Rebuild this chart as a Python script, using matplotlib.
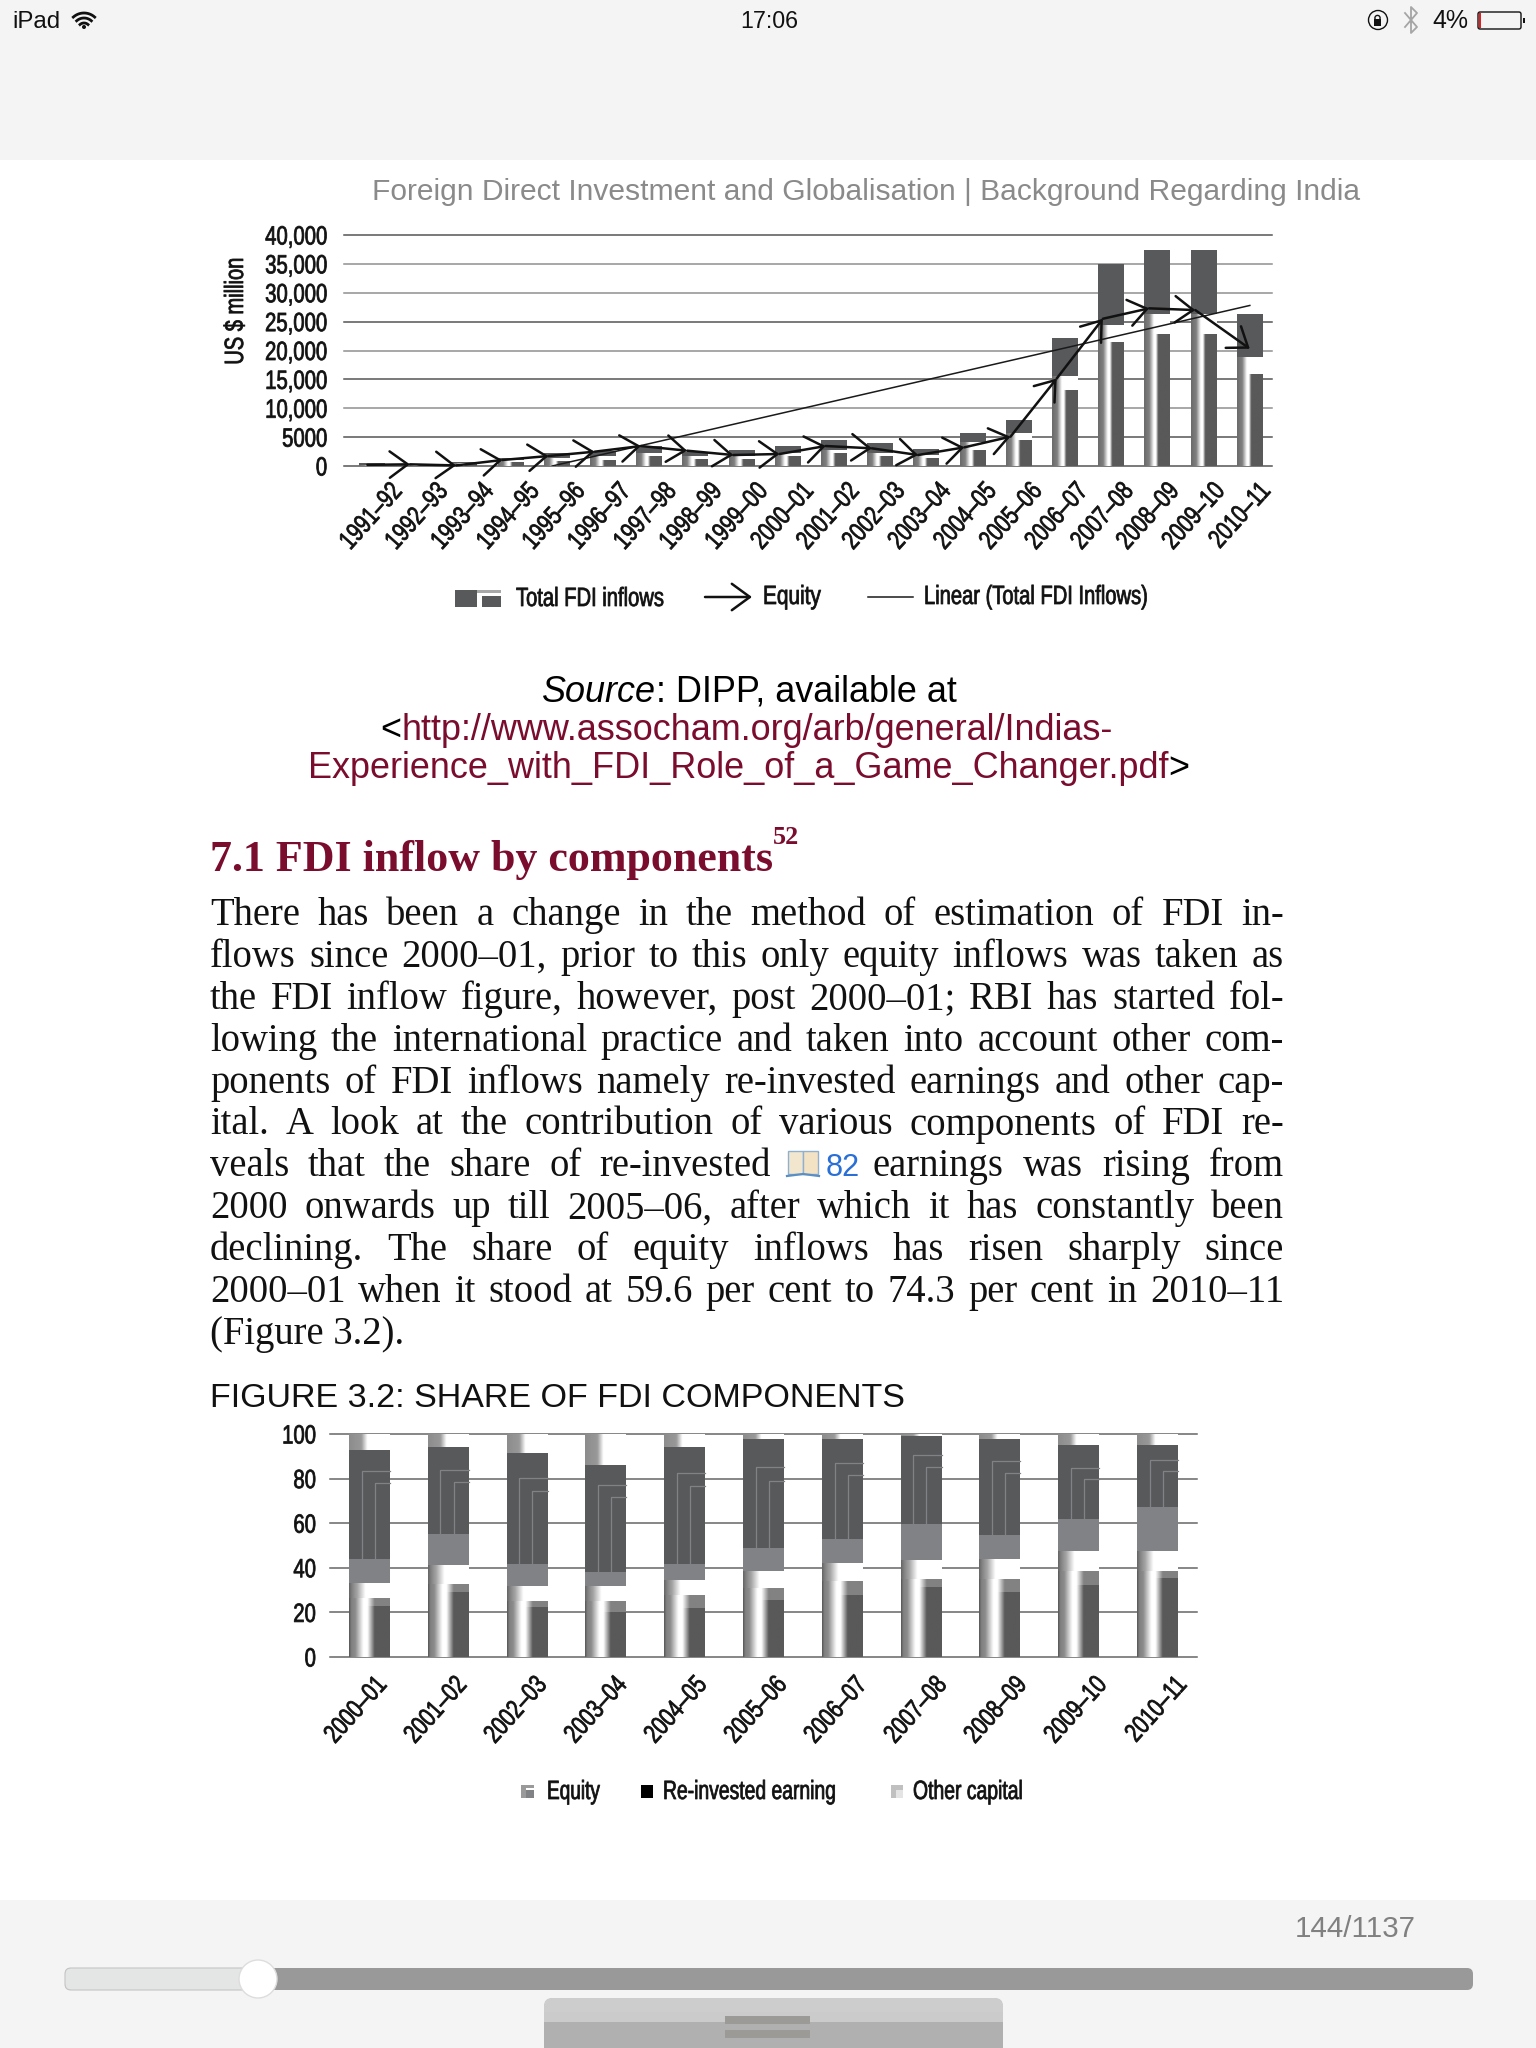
import matplotlib

matplotlib.use("Agg")
import matplotlib.pyplot as plt
from matplotlib.patches import Rectangle, FancyBboxPatch, Circle
from matplotlib.patheffects import AbstractPathEffect
from matplotlib.transforms import Affine2D
import numpy as np

W, H = 1536, 2048
SERIF = "Liberation Serif"
SANS = "Liberation Sans"
DARK = "#58595b"
MID = "#808285"
MAROON = "#7a0c2e"
INK = "#111111"

# ---- Figure 3.1 values (US $ million)
years1 = ["1991–92", "1992–93", "1993–94", "1994–95", "1995–96", "1996–97", "1997–98",
          "1998–99", "1999–00", "2000–01", "2001–02", "2002–03", "2003–04", "2004–05",
          "2005–06", "2006–07", "2007–08", "2008–09", "2009–10", "2010–11"]
total_fdi = [450, 320, 700, 1300, 2200, 2650, 3400, 2500, 2800, 3400, 4550, 3950, 2950, 5650,
             7950, 22250, 34900, 37350, 37400, 26400]
solid_from = [250, 250, 500, 1000, 1300, 1700, 2300, 1700, 1700, 2300, 2700, 2250, 1900, 4200,
              5650, 15600, 24400, 26400, 26400, 18900]
column_top = [200, 150, 400, 700, 800, 1100, 1700, 1200, 1200, 1700, 2200, 1700, 1300, 2750,
              4500, 13100, 21500, 22900, 22900, 16000]
equity1 = [200, 290, 100, 1040, 1730, 2480, 3460, 2650, 1900, 2080, 3460, 3060, 1900, 3230,
           5080, 15150, 25500, 27300, 27000, 20300]
trend_x = [3.9, 19.0]
trend_y = [0, 27800]
ticks1 = [0, 5000, 10000, 15000, 20000, 25000, 30000, 35000, 40000]
tick_labels1 = ["0", "5000", "10,000", "15,000", "20,000", "25,000", "30,000", "35,000", "40,000"]
grid_colors1 = ["#555555", "#555555", "#909090", "#555555", "#909090", "#555555", "#909090", "#909090", "#555555"]

# ---- Figure 3.2 values (per cent)
years2 = ["2000–01", "2001–02", "2002–03", "2003–04", "2004–05", "2005–06", "2006–07",
          "2007–08", "2008–09", "2009–10", "2010–11"]
col_top = [23.0, 29.0, 22.4, 20.2, 22.0, 25.4, 27.9, 31.4, 29.0, 32.4, 35.5]
cap_top = [26.5, 32.9, 24.9, 25.0, 27.6, 30.8, 33.9, 35.0, 35.0, 38.7, 38.7]
notch_top = [33.2, 41.1, 32.0, 32.0, 34.6, 38.4, 42.2, 43.7, 44.1, 47.4, 47.4]
band_top = [44.1, 55.1, 41.9, 38.0, 41.9, 48.9, 52.9, 59.6, 54.8, 61.9, 67.1]
dark_top = [93.0, 94.0, 91.5, 86.3, 94.2, 97.7, 97.7, 98.9, 97.7, 95.2, 95.2]
inner_a = [83.6, 84.0, 80.3, 77.3, 82.5, 85.0, 87.0, 90.7, 87.7, 84.8, 88.5]
inner_b = [78.0, 78.4, 74.6, 71.7, 76.5, 79.1, 81.5, 85.2, 82.4, 80.0, 83.5]
ticks2 = [0, 20, 40, 60, 80, 100]

body_lines = [
    "There has been a change in the method of estimation of FDI in-",
    "flows since 2000–01, prior to this only equity inflows was taken as",
    "the FDI inflow figure, however, post 2000–01; RBI has started fol-",
    "lowing the international practice and taken into account other com-",
    "ponents of FDI inflows namely re-invested earnings and other cap-",
    "ital. A look at the contribution of various components of FDI re-",
    None,
    "2000 onwards up till 2005–06, after which it has constantly been",
    "declining. The share of equity inflows has risen sharply since",
    "2000–01 when it stood at 59.6 per cent to 74.3 per cent in 2010–11",
]


class Squeeze(AbstractPathEffect):
    # no condensed font is installed, so narrow the glyphs of a normal one
    # and stroke them a little, the scan's lettering is heavier
    def __init__(self, sx, anchor=0.0, stroke=0.55):
        super().__init__()
        self.sx = sx
        self.anchor = anchor
        self.stroke = stroke

    def draw_path(self, renderer, gc, tpath, affine, rgbFace=None):
        shift = (1 - self.sx) * tpath.get_extents().x1 * self.anchor
        gc0 = renderer.new_gc()
        gc0.copy_properties(gc)
        gc0.set_linewidth(self.stroke)
        gc0.set_foreground(rgbFace)
        renderer.draw_path(gc0, tpath, Affine2D().scale(self.sx, 1).translate(shift, 0) + affine, rgbFace)
        gc0.restore()


fig = plt.figure(figsize=(W / 100, H / 100), dpi=100, facecolor="white")
rend = fig.canvas.get_renderer()

page = fig.add_axes([0, 0, 1, 1])
page.set_xlim(0, W)
page.set_ylim(H, 0)
page.axis("off")


def width_of(s, size, **kw):
    t = page.text(0, 0, s, fontsize=size, **kw)
    w = t.get_window_extent(rend).width
    t.remove()
    return w


def fit(x0, x1, y, s, size=20, **kw):
    size = size * (x1 - x0) / width_of(s, size, **kw)
    return page.text(x0, y, s, fontsize=size, va="baseline", **kw)


def narrow(x0, x1, y, s, size=19):
    # chart lettering: fixed height, width squeezed to the target
    sx = (x1 - x0) / width_of(s, size, family=SANS)
    t = page.text(x0, y, s, fontsize=size, family=SANS, color=INK, va="baseline")
    t.set_path_effects([Squeeze(sx)])
    return t


def pieces(x, y, parts, size, family):
    # several styles on one line
    for s, kw in parts:
        t = page.text(x, y, s, fontsize=size, family=family, va="baseline", **kw)
        x = t.get_window_extent(rend).x1


def justify(words, x0, x1, y, size):
    ws = [width_of(w, size, family=SERIF) for w in words]
    gap = (x1 - x0 - sum(ws)) / max(len(words) - 1, 1)
    x = x0
    for w, wd in zip(words, ws):
        page.text(x, y, w, fontsize=size, family=SERIF, color=INK, va="baseline")
        x += wd + gap


def squeeze_ticks(ax):
    for lab in ax.get_xticklabels() + ax.get_yticklabels():
        lab.set_path_effects([Squeeze(0.77, anchor=1.0)])


# ---- iPad chrome
page.add_patch(Rectangle((0, 0), W, 160, color="#f4f4f4", lw=0))
page.add_patch(Rectangle((0, 1900), W, 148, color="#f4f4f4", lw=0))

fit(12, 60, 28, "iPad", family=SANS, color=INK)
fit(740, 798, 28, "17:06", family=SANS, color=INK)
fit(1432, 1468, 28, "4%", family=SANS, color=INK)
fit(1295, 1416, 1937, "144/1137", family=SANS, color="#808080")
for r in [6, 11, 16]:
    a = np.radians(np.linspace(-42, 42, 20))
    page.plot(84 + r * np.sin(a), 29 - r * np.cos(a), color=INK, lw=2)
page.add_patch(Circle((84, 27), 2, color=INK, lw=0))
page.add_patch(Circle((1378, 20), 9.5, fill=False, ec=INK, lw=1))
page.add_patch(Rectangle((1374, 19), 7, 7, color=INK, lw=0))
page.add_patch(Circle((1377.5, 18), 2.6, fill=False, ec=INK, lw=1))
page.plot([1405, 1417, 1411, 1411, 1417, 1405], [13, 27, 33, 7, 13, 27], color="#a5a5a5", lw=1.3)
page.add_patch(FancyBboxPatch((1478, 12), 43, 17, boxstyle="round,pad=0,rounding_size=2", fc="none", ec=INK, lw=1))
page.add_patch(Rectangle((1479, 13), 2, 15, color="#e02020", lw=0))
page.add_patch(Rectangle((1523, 18), 1.5, 5, color=INK, lw=0))

# slider and tab
page.add_patch(FancyBboxPatch((65, 1968), 1408, 22, boxstyle="round,pad=0,rounding_size=6", fc="#999999", ec="none"))
page.add_patch(FancyBboxPatch((65, 1968), 195, 22, boxstyle="round,pad=0,rounding_size=6", fc="#e4e6e5", ec="#c4c4c4", lw=0.8))
page.add_patch(Circle((258, 1979), 19, fc="white", ec="#dddddd", lw=1, zorder=3))
page.add_patch(FancyBboxPatch((544, 1998), 459, 70, boxstyle="round,pad=0,rounding_size=10", fc="#b0b0b0", ec="none"))
page.add_patch(FancyBboxPatch((544, 1998), 459, 24, boxstyle="round,pad=0,rounding_size=8", fc="#cdcdcd", ec="none"))
page.add_patch(Rectangle((544, 2012), 459, 10, color="#cbcbcb", lw=0))
page.add_patch(Rectangle((725, 2016), 85, 8, color="#9c9a96", lw=0))
page.add_patch(Rectangle((725, 2030), 85, 8, color="#9c9a96", lw=0))

# ---- page text
fit(372, 1359, 200, "Foreign Direct Investment and Globalisation | Background Regarding India",
    family=SANS, color="#8a8a8a")

src_size = 20 * 879 / width_of("Experience_with_FDI_Role_of_a_Game_Changer.pdf>", 20, family=SANS)
pieces(542, 702, [("Source", {"style": "italic", "color": "black"}), (": DIPP, available at", {"color": "black"})], src_size, SANS)
pieces(380, 740, [("<", {"color": "black"}), ("http://www.assocham.org/arb/general/Indias-", {"color": MAROON})], src_size, SANS)
pieces(308, 778, [("Experience_with_FDI_Role_of_a_Game_Changer.pdf", {"color": MAROON}), (">", {"color": "black"})], src_size, SANS)

fit(210, 773, 871, "7.1 FDI inflow by components", family=SERIF, weight="bold", color=MAROON)
fit(773, 799, 844, "52", size=15, family=SERIF, weight="bold", color=MAROON)

BODY = 27.8
for n, line in enumerate(body_lines):
    y = 925 + 41.9 * n
    if line is not None:
        justify(line.split(), 210, 1284, y, BODY)
y7 = 925 + 41.9 * 6
justify("veals that the share of re-invested".split(), 210, 771, y7, BODY)
# book icon in front of the page reference
page.add_patch(Rectangle((788, 1151), 15, 23, fc="#f2e6cf", ec="#8fb0cf", lw=1))
page.add_patch(Rectangle((803, 1151), 15, 23, fc="#f4e2c4", ec="#8fb0cf", lw=1))
page.plot([787, 803, 819], [1176, 1174, 1176], color="#5b8fc4", lw=1.6)
fit(826, 860, y7, "82", family=SANS, color="#2a6fd6")
justify("earnings was rising from".split(), 873, 1284, y7, BODY)
page.text(210, 925 + 41.9 * 10, "(Figure 3.2).", fontsize=BODY, family=SERIF, color=INK, va="baseline")
fit(210, 904, 1407, "FIGURE 3.2: SHARE OF FDI COMPONENTS", family=SANS, color=INK)


def gradient(ax, x0, x1, y0, y1, xs, vals):
    # horizontal grey ramp inside one rectangle, as in the scanned bars
    grey = np.interp(np.linspace(0, 1, 60), xs, vals)[None, :]
    ax.imshow(grey, extent=[x0, x1, y0, y1], aspect="auto", cmap="gray", vmin=0, vmax=1,
              interpolation="bilinear", zorder=2)


def chart_axes(x0, x1, top, bottom):
    ax = fig.add_axes([x0 / W, 1 - bottom / H, (x1 - x0) / W, (bottom - top) / H])
    ax.patch.set_alpha(0)
    for s in ax.spines.values():
        s.set_visible(False)
    return ax


# ============================================================
# top chart: total FDI and equity
# ============================================================
ax1 = chart_axes(344, 1272, 235, 466)
idx1 = np.arange(len(years1))
bw1 = 0.56
for y, c in zip(ticks1, grid_colors1):
    ax1.axhline(y, color=c, lw=1.1, zorder=1, clip_on=False)
for i in idx1:
    x0, x1 = i - bw1 / 2, i + bw1 / 2
    gradient(ax1, x0, x1, 0, column_top[i], [0, 0.2, 0.38, 0.46, 0.55, 1], [0.42, 0.5, 1, 1, 0.35, 0.35])
    gradient(ax1, x0, x1, column_top[i], solid_from[i], [0, 0.2, 0.38, 1], [0.42, 0.5, 1, 1])
ax1.bar(idx1, np.array(total_fdi) - np.array(solid_from), bottom=solid_from, width=bw1, color=DARK, zorder=3)
ax1.plot(trend_x, trend_y, color="#1a1a1a", lw=1.1, zorder=4)
tip_x = idx1 - 0.18
tip_x[0] = -0.1
tip_x[-1] = idx1[-1]
for i in idx1[1:]:
    ax1.annotate("", xy=(tip_x[i], equity1[i]), xytext=(tip_x[i - 1], equity1[i - 1]), zorder=5,
                 arrowprops=dict(arrowstyle="->,head_length=1.3,head_width=0.95", mutation_scale=10,
                                 color=INK, lw=1.8, shrinkA=0, shrinkB=0))
ax1.set_xlim(-0.606, 19.48)
ax1.set_ylim(0, 40000)
ax1.set_yticks(ticks1, tick_labels1, family=SANS, fontsize=19, color=INK)
ax1.set_xticks(idx1 * 0.989 + 0.57, years1, family=SANS, fontsize=19, color=INK,
               rotation=48, ha="right", va="center", rotation_mode="anchor")
ax1.tick_params(axis="both", length=0)
ax1.tick_params(axis="y", pad=12)
ax1.tick_params(axis="x", pad=15)
squeeze_ticks(ax1)
t = page.text(236, 311, "US $ million", rotation=90, ha="center", va="center", family=SANS, fontsize=19, color=INK)
t.set_path_effects([Squeeze(107 / width_of("US $ million", 19, family=SANS), anchor=0.5)])

# legend drawn by hand, the three entries do not sit on one baseline
page.add_patch(Rectangle((455, 590), 46, 17, color=DARK, lw=0))
page.add_patch(Rectangle((477, 590), 24, 3, color="#a8a8a8", lw=0))
page.add_patch(Rectangle((477, 593), 24, 3, color="white", lw=0))
page.add_patch(Rectangle((477, 596), 5, 11, color="white", lw=0))
narrow(516, 664, 606, "Total FDI inflows")
page.annotate("", xy=(752, 597), xytext=(705, 597),
              arrowprops=dict(arrowstyle="->,head_length=1.3,head_width=0.95", mutation_scale=10,
                              color=INK, lw=1.8, shrinkA=0, shrinkB=0))
narrow(763, 821, 604, "Equity")
page.plot([868, 913], [597, 597], color="#1a1a1a", lw=1.1)
narrow(924, 1148, 604, "Linear (Total FDI Inflows)")

# ============================================================
# bottom chart: share of FDI components
# ============================================================
ax2 = chart_axes(330, 1197, 1434, 1657)
idx2 = np.arange(len(years2))
bw2 = 0.52
for y in ticks2:
    ax2.axhline(y, color="#666666", lw=1.1, zorder=1, clip_on=False)
low_x = [0, 0.05, 0.15, 0.35, 0.45, 0.63, 1]
for i in idx2:
    x0, x1 = i - bw2 / 2, i + bw2 / 2
    gradient(ax2, x0, x1, 0, col_top[i], low_x, [0.35, 0.5, 0.55, 1, 1, 0.35, 0.35])
    gradient(ax2, x0, x1, col_top[i], cap_top[i], low_x, [0.35, 0.5, 0.55, 1, 1, 0.51, 0.51])
    gradient(ax2, x0, x1, cap_top[i], notch_top[i], [0, 0.06, 0.2, 0.4, 1], [0.4, 0.5, 0.65, 1, 1])
    gradient(ax2, x0, x1, dark_top[i], 100, [0, 0.3, 0.45, 1], [0.55, 0.6, 1, 1])
    ax2.bar(i, band_top[i] - notch_top[i], bottom=notch_top[i], width=bw2, color=MID, zorder=3)
    ax2.bar(i, dark_top[i] - band_top[i], bottom=band_top[i], width=bw2, color=DARK, zorder=3)
    for frac, level in [(0.31, inner_a[i]), (0.63, inner_b[i])]:
        xl = x0 + frac * bw2
        ax2.plot([xl, xl, x1], [band_top[i], level, level], color=MID, lw=0.9, zorder=4)
ax2.set_xlim(-0.5, 10.5)
ax2.set_ylim(0, 100)
ax2.set_yticks(ticks2, [str(v) for v in ticks2], family=SANS, fontsize=19, color=INK)
ax2.set_xticks(idx2 * 1.015 + 0.17, years2, family=SANS, fontsize=19, color=INK,
               rotation=48, ha="right", va="center", rotation_mode="anchor")
ax2.tick_params(axis="both", length=0)
ax2.tick_params(axis="y", pad=10)
ax2.tick_params(axis="x", pad=17)
squeeze_ticks(ax2)

page.add_patch(Rectangle((521, 1785), 13, 13, color="#9a9a9a", lw=0))
page.add_patch(Rectangle((526, 1790), 8, 8, color=MID, lw=0))
page.add_patch(Rectangle((526, 1788), 8, 2, color="white", lw=0))
narrow(547, 600, 1799, "Equity")
page.add_patch(Rectangle((641, 1785), 12, 13, color="black", lw=0))
narrow(663, 836, 1799, "Re-invested earning")
page.add_patch(Rectangle((891, 1785), 12, 13, color="#c0c0c0", lw=0))
page.add_patch(Rectangle((896, 1790), 7, 8, color="#e4e4e4", lw=0))
narrow(913, 1023, 1799, "Other capital")

fig.savefig("out.png", dpi=100)
plt.close(fig)
